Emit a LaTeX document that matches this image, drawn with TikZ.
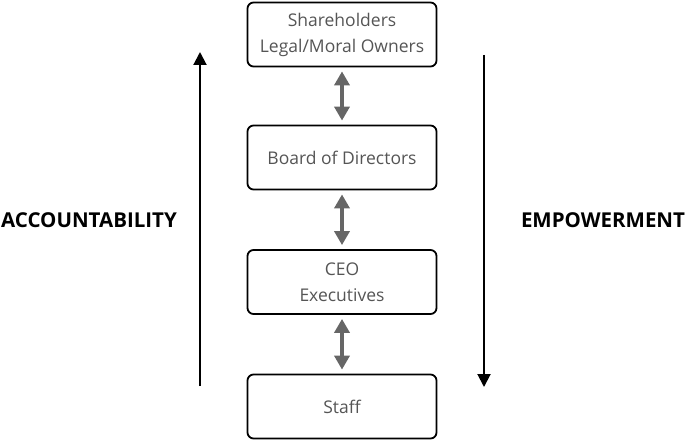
\documentclass[tikz,border=0pt]{standalone}
\usepackage{fontspec}
\setmainfont{Open Sans}
\usetikzlibrary{arrows.meta}
\definecolor{txtgray}{HTML}{555555}
\definecolor{arrgray}{HTML}{666666}
\begin{document}
\begin{tikzpicture}[x=1pt,y=-1pt,
  box/.style={draw=black,line width=1.8pt,rounded corners=6pt,minimum width=189pt,minimum height=64pt,inner sep=0pt,align=center,text=txtgray,font=\fontsize{17.5}{26}\selectfont},
  dbl/.style={draw=arrgray,line width=4.5pt,{Triangle[width=15pt,length=14pt,color=arrgray]}-{Triangle[width=15pt,length=14pt,color=arrgray]},shorten <=4pt,shorten >=4pt},
  bigarr/.style={draw=black,line width=2pt,-{Triangle[width=13pt,length=13pt]}},
  lbl/.style={font=\bfseries\fontsize{20.5}{24}\selectfont,inner sep=0pt}]
\useasboundingbox (0,0) rectangle (685,441);
\node[box] (sh) at (342,34.5) {Shareholders\\Legal/Moral Owners};
\node[box] (bd) at (342,157.5) {Board of Directors};
\node[box] (ceo) at (342,282) {CEO\\Executives};
\node[box] (st) at (342,406.5) {Staff};
\draw[dbl] (sh.south) -- (bd.north);
\draw[dbl] (bd.south) -- (ceo.north);
\draw[dbl] (ceo.south) -- (st.north);
\coordinate (ab) at (200,386);
\coordinate (at) at (200,52);
\coordinate (eb) at (484,55);
\coordinate (et) at (484,387);
\draw[bigarr] (ab) -- (at);
\draw[bigarr] (eb) -- (et);
\node[lbl] (acc) at (89,220) {ACCOUNTABILITY};
\node[lbl] (emp) at (603,220) {EMPOWERMENT};
\end{tikzpicture}
\end{document}
